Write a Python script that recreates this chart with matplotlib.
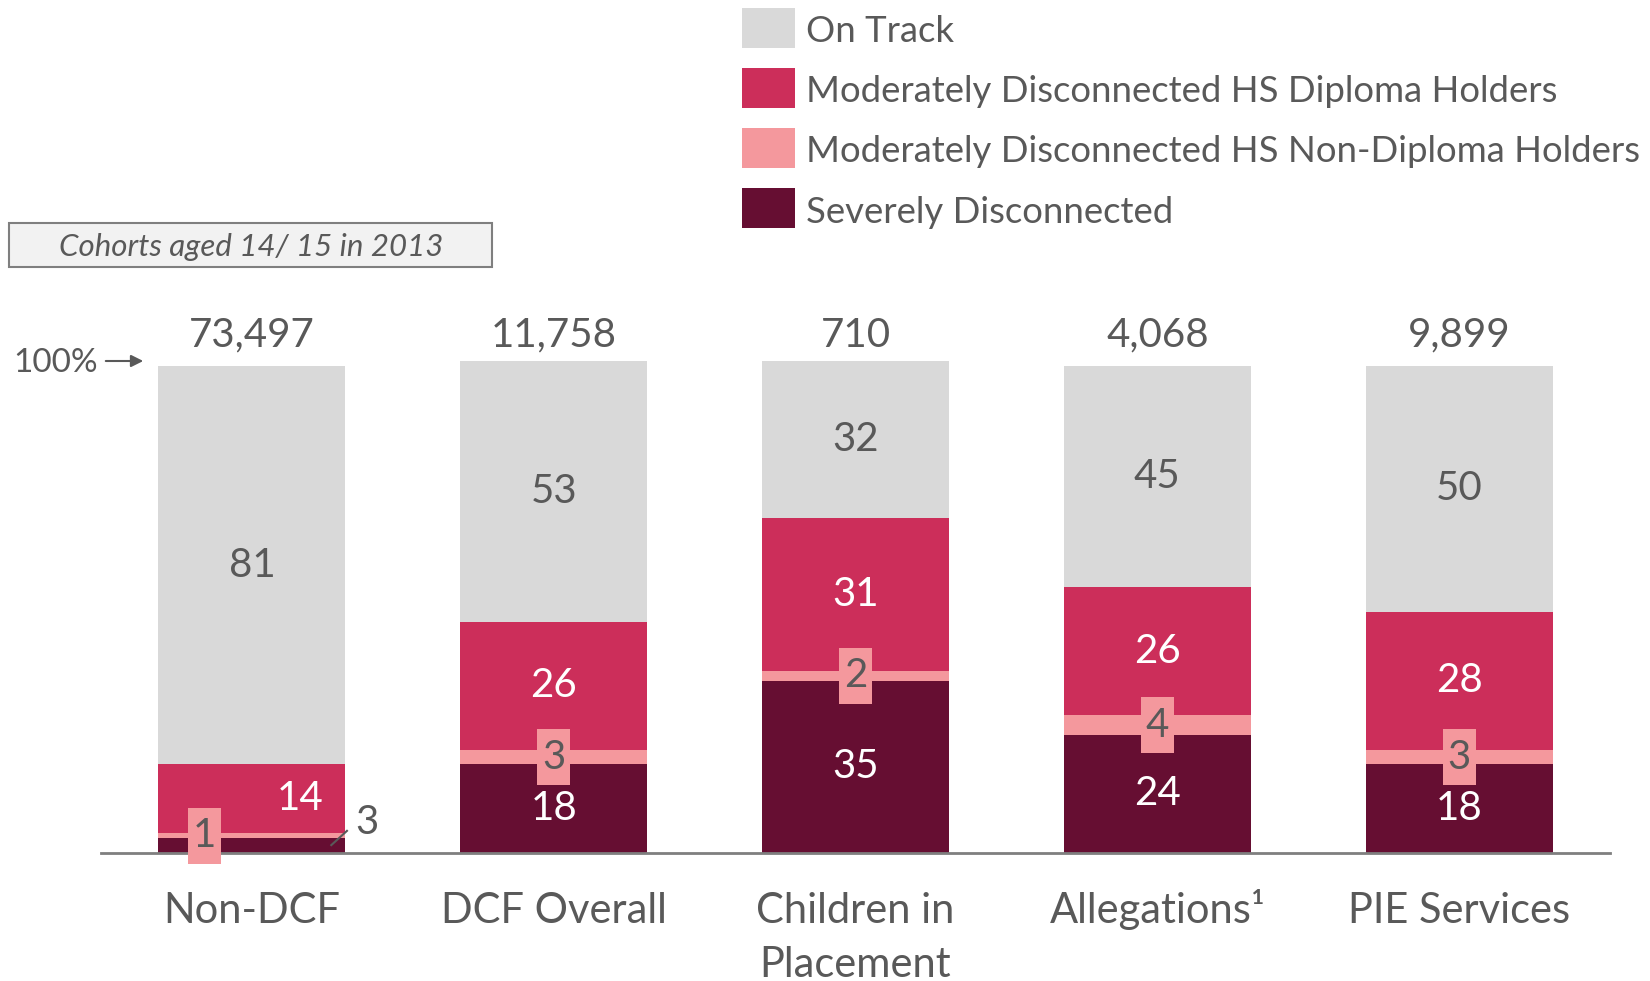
import matplotlib
matplotlib.use('Agg')
import matplotlib.pyplot as plt
from matplotlib.patches import Rectangle

plt.rcParams['font.family'] = ['Lato', 'DejaVu Sans']

categories = ['Non-DCF', 'DCF Overall', 'Children in\nPlacement', 'Allegations\u00b9', 'PIE Services']
totals = ['73,497', '11,758', '710', '4,068', '9,899']
severe = [3, 18, 35, 24, 18]
non_diploma = [1, 3, 2, 4, 3]
diploma = [14, 26, 31, 26, 28]
on_track = [81, 53, 32, 45, 50]

series_names = ['On Track', 'Moderately Disconnected HS Diploma Holders',
                'Moderately Disconnected HS Non-Diploma Holders', 'Severely Disconnected']

c_track = '#d9d9d9'
c_dip = '#cc2e5a'
c_nondip = '#f4989d'
c_severe = '#660e32'
txt = '#595959'

fig = plt.figure(figsize=(16.5, 9.81), dpi=100)
ax = fig.add_axes([101 / 1650, 128 / 981, 1509 / 1650, 492 / 981])

x = list(range(len(categories)))
w = 0.62
b1 = severe
b2 = [a + b for a, b in zip(b1, non_diploma)]
b3 = [a + b for a, b in zip(b2, diploma)]

ax.bar(x, severe, w, color=c_severe)
ax.bar(x, non_diploma, w, bottom=b1, color=c_nondip)
ax.bar(x, diploma, w, bottom=b2, color=c_dip)
ax.bar(x, on_track, w, bottom=b3, color=c_track)

ax.set_xlim(-0.5, 4.5)
ax.set_ylim(0, 100)
for s in ['top', 'right', 'left']:
    ax.spines[s].set_visible(False)
ax.spines['bottom'].set_color('#7f7f7f')
ax.spines['bottom'].set_linewidth(2)
ax.set_yticks([])
ax.set_xticks(x)
ax.set_xticklabels([])
ax.tick_params(axis='x', length=0)

# category names, one text per line so all first lines share a baseline
for i, name in enumerate(categories):
    for k, line in enumerate(name.split('\n')):
        ax.text(i, -14.2 - 11.0 * k, line, ha='center', va='baseline', fontsize=30,
                color=txt)

fs = 29


def nondip_label(xc, yc, val):
    # small pink tag behind the thin non-diploma segment value
    ax.add_patch(Rectangle((xc - 0.055, yc - 5.7), 0.11, 11.4, fc=c_nondip, ec='none',
                           zorder=4, clip_on=False))
    ax.text(xc, yc, str(val), ha='center', va='center', fontsize=fs, color=txt, zorder=5)


for i in x:
    ax.text(i, b3[i] + on_track[i] / 2, str(on_track[i]), ha='center', va='center',
            fontsize=fs, color=txt)
    ax.text(i, 101.5, totals[i], ha='center', va='bottom', fontsize=fs, color=txt)
    if i == 0:
        # first bar is too thin for inline labels
        ax.text(i + 0.16, b2[i] + diploma[i] / 2, str(diploma[i]), ha='center', va='center',
                fontsize=fs, color='white')
        nondip_label(i - 0.157, b1[i] + non_diploma[i] / 2, non_diploma[i])
        ax.plot([i + 0.263, i + 0.315], [1.6, 4.5], color=txt, lw=1.5, clip_on=False)
        ax.text(i + 0.38, 6.1, str(severe[i]), ha='center', va='center', fontsize=fs, color=txt)
    else:
        ax.text(i, b2[i] + diploma[i] / 2, str(diploma[i]), ha='center', va='center',
                fontsize=fs, color='white')
        ax.text(i, b1[i] / 2, str(severe[i]), ha='center', va='center',
                fontsize=fs, color='white')
        nondip_label(i, b1[i] + non_diploma[i] / 2, non_diploma[i])

# 100% marker
fig.text(13 / 1650, 1 - 363 / 981, '100%', ha='left', va='center', fontsize=24, color=txt)
ax.annotate('', xy=(146 / 1650, 1 - 361 / 981), xytext=(103 / 1650, 1 - 361 / 981),
            xycoords='figure fraction', textcoords='figure fraction',
            arrowprops=dict(arrowstyle='-|>', color=txt, lw=1.5, mutation_scale=18))

# cohort box
fig.patches.append(Rectangle((9 / 1650, 1 - 267 / 981), 483 / 1650, 44 / 981,
                             transform=fig.transFigure, fc='#f2f2f2', ec='#7f7f7f', lw=1.5))
fig.text(251 / 1650, 1 - 247 / 981, 'Cohorts aged 14/ 15 in 2013', ha='center', va='center',
         fontsize=22.5, style='italic', color=txt)

# legend
leg_colors = [c_track, c_dip, c_nondip, c_severe]
for k, (name, col) in enumerate(zip(series_names, leg_colors)):
    yc = 28 + 60 * k
    fig.patches.append(Rectangle((742 / 1650, 1 - (yc + 20) / 981), 53 / 1650, 40 / 981,
                                 transform=fig.transFigure, fc=col, ec='none'))
    fig.text(806 / 1650, 1 - (yc + 4) / 981, name, ha='left', va='center', fontsize=26.3,
             color=txt)

fig.savefig('out.png', dpi=100)
